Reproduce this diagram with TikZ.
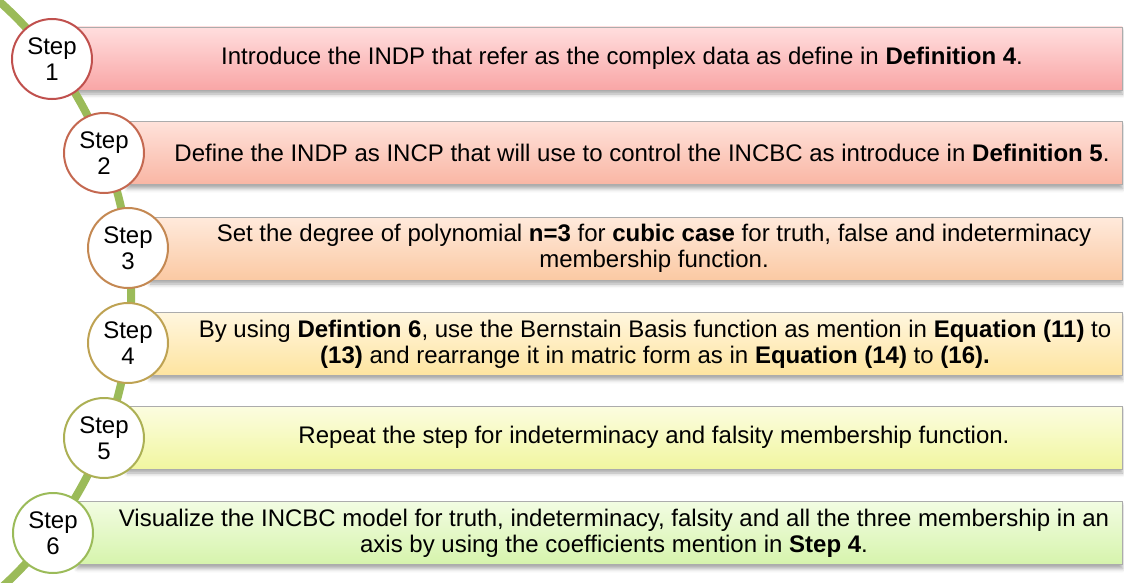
\documentclass[tikz,border=0pt]{standalone}
\usepackage{fontspec}
\setmainfont{Liberation Sans}
\usetikzlibrary{calc,positioning,shadows.blur}

% bar shading (top/bottom) and ring colours per step
\definecolor{top1}{RGB}{255,222,222}\definecolor{bot1}{RGB}{249,166,166}\definecolor{ring1}{RGB}{192,80,77}
\definecolor{top2}{RGB}{255,226,218}\definecolor{bot2}{RGB}{249,182,164}\definecolor{ring2}{RGB}{196,104,80}
\definecolor{top3}{RGB}{255,234,220}\definecolor{bot3}{RGB}{251,201,163}\definecolor{ring3}{RGB}{196,136,82}
\definecolor{top4}{RGB}{255,246,222}\definecolor{bot4}{RGB}{254,228,160}\definecolor{ring4}{RGB}{190,162,82}
\definecolor{top5}{RGB}{252,253,224}\definecolor{bot5}{RGB}{241,246,160}\definecolor{ring5}{RGB}{172,176,84}
\definecolor{top6}{RGB}{242,252,226}\definecolor{bot6}{RGB}{214,244,172}\definecolor{ring6}{RGB}{155,187,89}
\definecolor{trackgreen}{RGB}{155,187,89}

\begin{document}
\begin{tikzpicture}[x=0.5pt,y=-0.5pt,
  bar/.style={rectangle, draw=gray!65, line width=0.4pt, inner sep=0pt,
    minimum height=31.5pt, anchor=west,
    blur shadow={shadow xshift=0pt, shadow yshift=-2pt, shadow blur radius=2pt, shadow opacity=35}},
  stepnode/.style={circle, fill=white, line width=1pt, minimum size=40pt, inner sep=0pt,
    align=center, font=\fontsize{12}{13}\selectfont},
  txt/.style={align=center, font=\fontsize{12}{13}\selectfont},
  track/.style={draw=trackgreen, line width=4pt}]
  \clip (0,0) rectangle (1124,583);

  % bars with their texts
  \foreach \i/\cy/\bx/\tx/\msg in {
    1/58.5/75/622/{Introduce the INDP that refer as the complex data as define in \textbf{Definition 4}.},
    2/153/127/642/{Define the INDP as INCP that will use to control the INCBC as introduce in \textbf{Definition 5}.},
    3/248.5/150/654/{Set the degree of polynomial \textbf{n=3} for \textbf{cubic case} for truth, false and indeterminacy\\membership function.},
    4/344/150/655/{By using \textbf{Defintion 6}, use the Bernstain Basis function as mention in \textbf{Equation (11)} to\\\textbf{(13)} and rearrange it in matric form as in \textbf{Equation (14)} to \textbf{(16).}},
    5/437.5/127/654/{Repeat the step for indeterminacy and falsity membership function.},
    6/533/77/614/{Visualize the INCBC model for truth, indeterminacy, falsity and all the three membership in an\\axis by using the coefficients mention in \textbf{Step 4}.}}{
    \node[bar, top color=top\i, bottom color=bot\i, minimum width={(1122-\bx)*0.5pt}] (bar\i) at (\bx,\cy) {};
    \node[txt] (txt\i) at (\tx,\cy) {\msg};
  }

  % green track behind the step circles
  \coordinate (trackstart) at (-9.7,-6.3);
  \draw[track] (trackstart) arc[start angle=50, end angle=-50, radius=197pt];

  % step circles
  \foreach \i/\cx/\cy in {1/52/59, 2/104/153, 3/128/248, 4/128/343, 5/104/438, 6/53/533}{
    \node[stepnode, draw=ring\i] (step\i) at (\cx,\cy) {Step\\\i};
  }
\end{tikzpicture}
\end{document}
